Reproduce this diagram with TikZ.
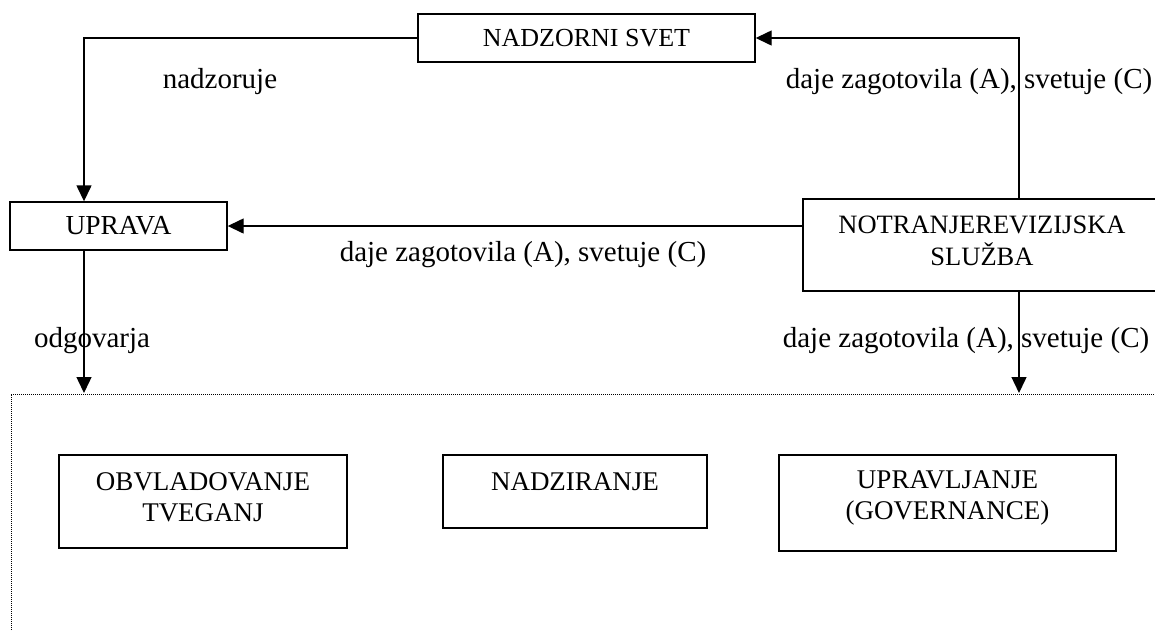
\documentclass[tikz,border=0pt]{standalone}
\usepackage{fontspec}
\setmainfont{Liberation Serif}
\usetikzlibrary{arrows.meta}
\begin{document}
\begin{tikzpicture}[x=1pt,y=-1pt,
  box/.style={draw, line width=1.4pt, inner sep=0pt, align=center, font=\fontsize{26}{32}\selectfont},
  boxtxt/.style={inner sep=0pt, align=center, font=\fontsize{27}{31}\selectfont},
  lbl/.style={inner sep=0pt, font=\fontsize{29}{32}\selectfont},
  arr/.style={line width=1.4pt, -{Triangle[length=16pt,width=15pt]}},
  dotline/.style={line width=1pt, dash pattern=on 1pt off 1pt}]
\useasboundingbox (0,0) rectangle (1155,630);

% main boxes
\node[box, minimum width=337pt, minimum height=48pt] (nadzor) at (586.5,38) {NADZORNI SVET};
\node[box, minimum width=217pt, minimum height=48pt, font=\fontsize{27.5}{32}\selectfont] (uprava) at (118.5,226) {UPRAVA};
\node[box, minimum width=357pt, minimum height=92pt] (notr) at (981.5,245) {};
\node[boxtxt, font=\fontsize{26.5}{32}\selectfont] (notrtxt) at (982,241) {NOTRANJEREVIZIJSKA\\SLUŽBA};

% lower boxes
\node[box, minimum width=288pt, minimum height=93pt] (obv) at (203,501.5) {};
\node[boxtxt] (obvtxt) at (203,497.5) {OBVLADOVANJE\\TVEGANJ};
\node[box, minimum width=264pt, minimum height=73pt] (nadz) at (575,491.5) {};
\node[boxtxt] (nadztxt) at (575,482) {NADZIRANJE};
\node[box, minimum width=337pt, minimum height=96pt] (upr) at (947.5,503) {};
\node[boxtxt] (uprtxt) at (947.5,497.5) {UPRAVLJANJE\\(GOVERNANCE)};

% dotted frame
\coordinate (dbl) at (11,640);
\coordinate (dtl) at (11,394);
\coordinate (dtr) at (1165,394);
\draw[dotline] (dbl) -- (dtl) -- (dtr);
\coordinate (odgEnd) at (84,393);
\coordinate (dajeEnd) at (1019,393);

% connectors
\draw[arr] (nadzor.west) -| ([xshift=-34.5pt]uprava.north);
\draw[arr] ([xshift=37.5pt]notr.north) |- (nadzor.east);
\draw[arr] (notr.west |- uprava.east) -- (uprava.east);
\draw[arr] ([xshift=-34.5pt]uprava.south) -- (odgEnd);
\draw[arr] ([xshift=37.5pt]notr.south) -- (dajeEnd);

% labels
\node[lbl] (l1) at (220,82) {nadzoruje};
\node[lbl] (l2) at (969,82) {daje zagotovila (A), svetuje (C)};
\node[lbl] (l3) at (523,255) {daje zagotovila (A), svetuje (C)};
\node[lbl] (l4) at (92,341) {odgovarja};
\node[lbl] (l5) at (966,341) {daje zagotovila (A), svetuje (C)};
\end{tikzpicture}
\end{document}
